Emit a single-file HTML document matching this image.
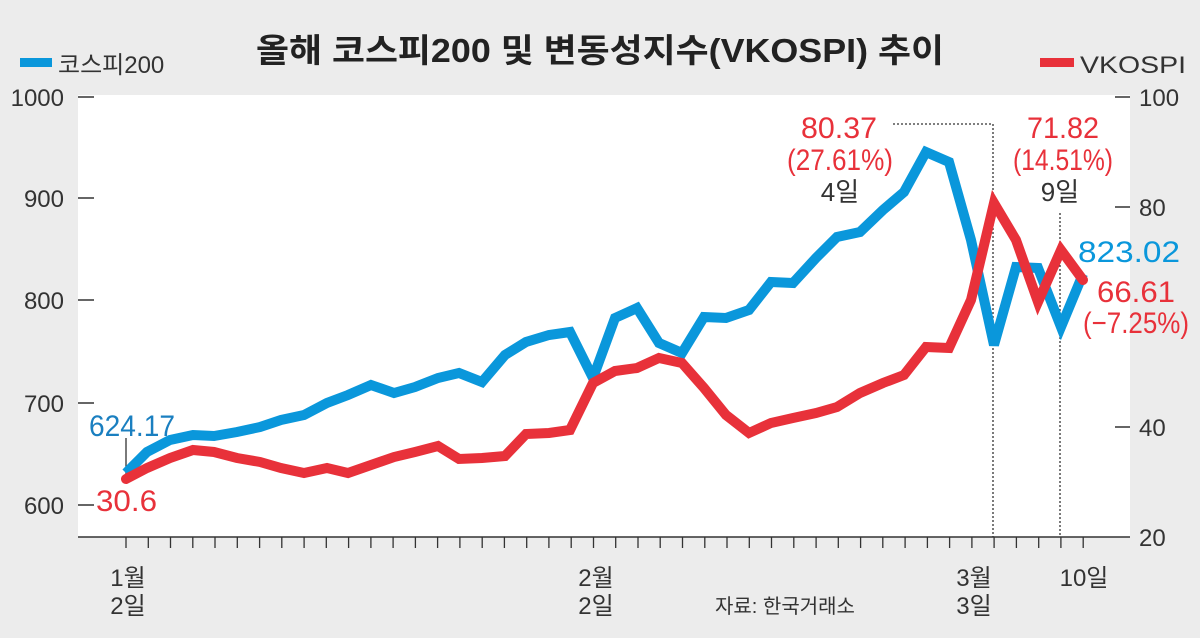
<!DOCTYPE html>
<html><head><meta charset="utf-8"><style>
html,body{margin:0;padding:0;background:#ececec;}
svg{display:block;font-family:"Liberation Sans","Noto Sans CJK KR",sans-serif;}
</style></head><body>
<svg width="1200" height="638" viewBox="0 0 1200 638" xmlns="http://www.w3.org/2000/svg">
<rect width="1200" height="638" fill="#ececec"/>
<rect x="78" y="95" width="1052" height="442" fill="#fff"/>
<text x="600" y="62" text-anchor="middle" font-size="33" font-weight="bold" fill="#222" textLength="688" lengthAdjust="spacingAndGlyphs">올해 코스피200 및 변동성지수(VKOSPI) 추이</text>
<rect x="20" y="58" width="32" height="9" fill="#0a97db"/>
<text x="58" y="73" font-size="24" fill="#333">코스피200</text>
<rect x="1040" y="58" width="34" height="9" fill="#e8313a"/>
<text x="1080" y="73" font-size="24" fill="#333" textLength="106" lengthAdjust="spacingAndGlyphs">VKOSPI</text>
<g stroke="#333" stroke-width="1.5">
<line x1="78" y1="97" x2="94" y2="97"/><line x1="78" y1="198" x2="94" y2="198"/><line x1="78" y1="300" x2="94" y2="300"/><line x1="78" y1="403" x2="94" y2="403"/><line x1="78" y1="505" x2="94" y2="505"/>
<line x1="1115" y1="97" x2="1130" y2="97"/><line x1="1115" y1="207" x2="1130" y2="207"/><line x1="1115" y1="427" x2="1130" y2="427"/>
<line x1="78" y1="537" x2="1130" y2="537"/>
</g>
<g font-size="24" fill="#333" text-anchor="end">
<text x="64" y="106">1000</text><text x="64" y="207">900</text><text x="64" y="309">800</text><text x="64" y="412">700</text><text x="64" y="514">600</text>
</g>
<g font-size="24" fill="#333">
<text x="1139" y="106">100</text><text x="1139" y="216">80</text><text x="1139" y="436">40</text><text x="1139" y="546">20</text>
</g>
<path stroke="#333" stroke-width="1.3" fill="none" d="M126 537v11M148.3 537v11M170.5 537v11M192.8 537v11M215 537v11M237.3 537v11M259.6 537v11M281.8 537v11M304.1 537v11M326.3 537v11M348.6 537v11M370.9 537v11M393.1 537v11M415.4 537v11M437.6 537v11M459.9 537v11M482.2 537v11M504.4 537v11M526.7 537v11M548.9 537v11M571.2 537v11M593.5 537v11M615.7 537v11M638 537v11M660.2 537v11M682.5 537v11M704.8 537v11M727 537v11M749.3 537v11M771.5 537v11M793.8 537v11M816.1 537v11M838.3 537v11M860.6 537v11M882.8 537v11M905.1 537v11M927.4 537v11M949.6 537v11M971.9 537v11M994.1 537v11M1016.4 537v11M1038.7 537v11M1060.9 537v11M1083.2 537v11"/>
<g font-size="24" fill="#333" text-anchor="middle">
<text x="128" y="586">1월</text><text x="128" y="614">2일</text>
<text x="596" y="586">2월</text><text x="596" y="614">2일</text>
<text x="974" y="586">3월</text><text x="974" y="614">3일</text>
<text x="1084" y="586">10일</text>
</g>
<text x="715" y="613" font-size="20" fill="#333">자료: 한국거래소</text>
<g stroke="#333" stroke-width="1.3" stroke-dasharray="2,2" fill="none">
<polyline points="893,124 993,124 993,537"/>
<line x1="1060" y1="213" x2="1060" y2="537"/>
</g>
<line x1="126" y1="438" x2="126" y2="474" stroke="#333" stroke-width="1.3"/>
<polyline fill="none" stroke="#0a97db" stroke-width="10" stroke-linejoin="miter" points="126,473 147,452 170,440 193,435 214,436 237,432 260,427 281,420 304,415 327,403 348,395 371,385 394,393 415,387 438,378 459,373 482,382 505,355 526,342 549,335 570,332 593,378 615,318 637,308 659,343 682,353 704,317 726,318 749,310 771,282 793,283 816,258 837,237 860,232 883,210 904,192 926,152 949,162 971,240 994,345 1016,267 1038,268 1061,327 1083,274"/>
<polyline fill="none" stroke="#e8313a" stroke-width="10" stroke-linejoin="miter" stroke-linecap="round" points="126,479 147,468 170,458 193,450 214,452 237,458 260,462 281,468 304,473 327,468 348,473 371,465 394,457 415,452 438,446 459,459 482,458 505,456 526,434 549,433 570,430 593,383 615,371 637,368 659,358 682,363 704,388 726,415 749,433 771,423 793,418 816,413 837,407 860,393 883,383 904,375 926,347 949,348 971,300 994,203 1016,240 1038,302 1061,250 1083,280"/>
<text x="89" y="436" font-size="30" fill="#1a7fc0" textLength="86" lengthAdjust="spacingAndGlyphs">624.17</text>
<text x="96" y="511" font-size="30" fill="#e8313a" textLength="61" lengthAdjust="spacingAndGlyphs">30.6</text>
<g text-anchor="middle" font-size="30">
<text x="839" y="138" fill="#e8313a" textLength="76" lengthAdjust="spacingAndGlyphs">80.37</text>
<text x="840" y="170" fill="#e8313a" textLength="106" lengthAdjust="spacingAndGlyphs">(27.61%)</text>
<text x="840" y="201" fill="#333" font-size="26">4일</text>
<text x="1063" y="138" fill="#e8313a" textLength="72" lengthAdjust="spacingAndGlyphs">71.82</text>
<text x="1063" y="170" fill="#e8313a" textLength="100" lengthAdjust="spacingAndGlyphs">(14.51%)</text>
<text x="1060" y="201" fill="#333" font-size="26">9일</text>
</g>
<text x="1078" y="262" font-size="30" fill="#0a97db" textLength="102" lengthAdjust="spacingAndGlyphs">823.02</text>
<text x="1097" y="302" font-size="30" fill="#e8313a" textLength="78" lengthAdjust="spacingAndGlyphs">66.61</text>
<text x="1083" y="333" font-size="30" fill="#e8313a" textLength="106" lengthAdjust="spacingAndGlyphs">(−7.25%)</text>
</svg>
</body></html>
